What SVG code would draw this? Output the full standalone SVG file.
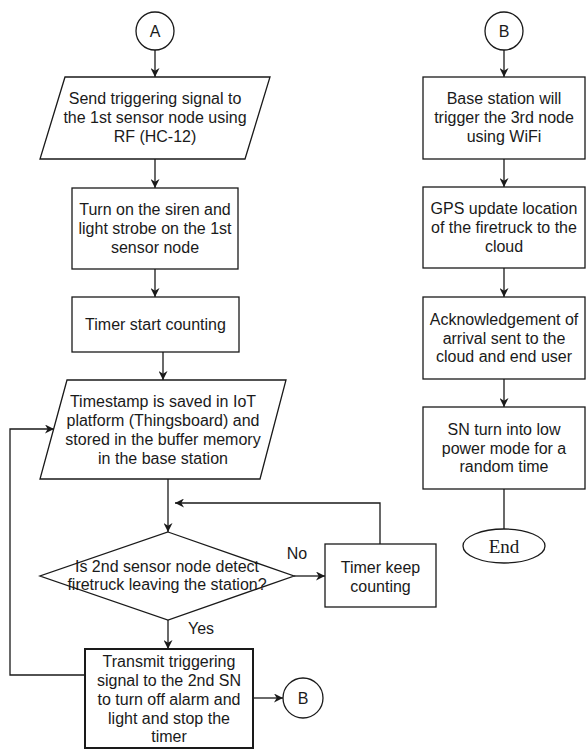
<svg xmlns="http://www.w3.org/2000/svg" width="587" height="749" viewBox="0 0 587 749">
  <defs>
    <marker id="arrow" viewBox="0 0 10 10" refX="10" refY="5" markerWidth="9" markerHeight="9" markerUnits="userSpaceOnUse" orient="auto">
      <path d="M0,0 L10,5 L0,10 L3,5 z" fill="#1a1a1a"/>
    </marker>
  </defs>
  <style>
    .shape { fill: #ffffff; stroke: #1a1a1a; stroke-width: 1.3; }
    .bold { stroke-width: 2; }
    .edge { fill: none; stroke: #1a1a1a; stroke-width: 1.3; }
    .arrow { marker-end: url(#arrow); }
    text { font-family: "Liberation Sans", Arial, sans-serif; font-size: 16px; fill: #1a1a1a; text-anchor: middle; }
    .serif { font-family: "Liberation Serif", "Times New Roman", serif; font-size: 19px; }
  </style>

  <rect width="587" height="749" fill="#ffffff"/>

  <!-- connectors -->
  <g id="connectors">
    <line class="edge arrow" x1="155" y1="50" x2="155" y2="77"/>
    <line class="edge arrow" x1="155" y1="159" x2="155" y2="188"/>
    <line class="edge arrow" x1="155" y1="269" x2="155" y2="297"/>
    <line class="edge arrow" x1="163" y1="352" x2="163" y2="380"/>
    <line class="edge arrow" x1="168" y1="479" x2="168" y2="532"/>
    <line class="edge arrow" x1="294" y1="576" x2="325" y2="576"/>
    <polyline class="edge arrow" points="380,544 380,503 175,503"/>
    <line class="edge arrow" x1="168" y1="620" x2="168" y2="649"/>
    <polyline class="edge arrow" points="85,675 10,675 10,429 54,429"/>
    <line class="edge arrow" x1="253" y1="698" x2="283" y2="698"/>
    <line class="edge arrow" x1="504" y1="50" x2="504" y2="77"/>
    <line class="edge arrow" x1="504" y1="159" x2="504" y2="187"/>
    <line class="edge arrow" x1="504" y1="268" x2="504" y2="297"/>
    <line class="edge arrow" x1="504" y1="379" x2="504" y2="407"/>
    <line class="edge" x1="504" y1="489" x2="504" y2="529"/>
    <text x="297" y="559">No</text>
    <text x="201" y="634">Yes</text>
  </g>

  <!-- left column -->
  <g id="connector-a">
    <circle class="shape" cx="155" cy="31" r="19"/>
    <text x="155" y="37">A</text>
  </g>

  <g id="send-signal">
    <polygon class="shape" points="65,77 270,77 245,159 40,159"/>
    <text x="155" y="104">Send triggering signal to</text>
    <text x="155" y="123">the 1st sensor node using</text>
    <text x="155" y="141.5">RF (HC-12)</text>
  </g>

  <g id="siren-on">
    <rect class="shape" x="72" y="188" width="166" height="81"/>
    <text x="155" y="215">Turn on the siren and</text>
    <text x="155" y="234">light strobe on the 1st</text>
    <text x="155" y="252.5">sensor node</text>
  </g>

  <g id="timer-start">
    <rect class="shape" x="72" y="297" width="167" height="55"/>
    <text x="155.5" y="330">Timer start counting</text>
  </g>

  <g id="timestamp">
    <polygon class="shape" points="67,380 286,380 260,479 40,479"/>
    <text x="163" y="407">Timestamp is saved in IoT</text>
    <text x="163" y="426">platform (Thingsboard) and</text>
    <text x="163" y="445">stored in the buffer memory</text>
    <text x="163" y="463.5">in the base station</text>
  </g>

  <g id="detect-decision">
    <polygon class="shape" points="168,532 294,576 168,620 40,576"/>
    <text x="167" y="572">Is 2nd sensor node detect</text>
    <text x="167" y="590">firetruck leaving the station?</text>
  </g>

  <g id="timer-keep">
    <rect class="shape" x="325" y="544" width="111" height="63"/>
    <text x="380.5" y="573">Timer keep</text>
    <text x="380.5" y="592">counting</text>
  </g>

  <g id="transmit">
    <rect class="shape bold" x="85" y="649" width="168" height="99"/>
    <text x="169" y="667">Transmit triggering</text>
    <text x="169" y="686">signal to the 2nd SN</text>
    <text x="169" y="705">to turn off alarm and</text>
    <text x="169" y="723.5">light and stop the</text>
    <text x="169" y="742">timer</text>
  </g>

  <g id="connector-b-out">
    <circle class="shape" cx="303" cy="698" r="20"/>
    <text x="303" y="704">B</text>
  </g>

  <!-- right column -->
  <g id="connector-b-in">
    <circle class="shape" cx="504" cy="31" r="19"/>
    <text x="504" y="37">B</text>
  </g>

  <g id="trigger-third">
    <rect class="shape" x="423" y="77" width="162" height="82"/>
    <text x="504" y="104">Base station will</text>
    <text x="504" y="123">trigger the 3rd node</text>
    <text x="504" y="141.5">using WiFi</text>
  </g>

  <g id="gps-update">
    <rect class="shape" x="423" y="187" width="162" height="81"/>
    <text x="504" y="214">GPS update location</text>
    <text x="504" y="233">of the firetruck to the</text>
    <text x="504" y="251.5">cloud</text>
  </g>

  <g id="acknowledge">
    <rect class="shape" x="423" y="297" width="162" height="82"/>
    <text x="504" y="324.5">Acknowledgement of</text>
    <text x="504" y="343.5">arrival sent to the</text>
    <text x="504" y="362">cloud and end user</text>
  </g>

  <g id="low-power">
    <rect class="shape" x="423" y="407" width="162" height="82"/>
    <text x="504" y="434.5">SN turn into low</text>
    <text x="504" y="453.5">power mode for a</text>
    <text x="504" y="472">random time</text>
  </g>

  <g id="end">
    <ellipse class="shape" cx="504" cy="546" rx="41" ry="17"/>
    <text class="serif" x="504" y="552.5">End</text>
  </g>
</svg>
